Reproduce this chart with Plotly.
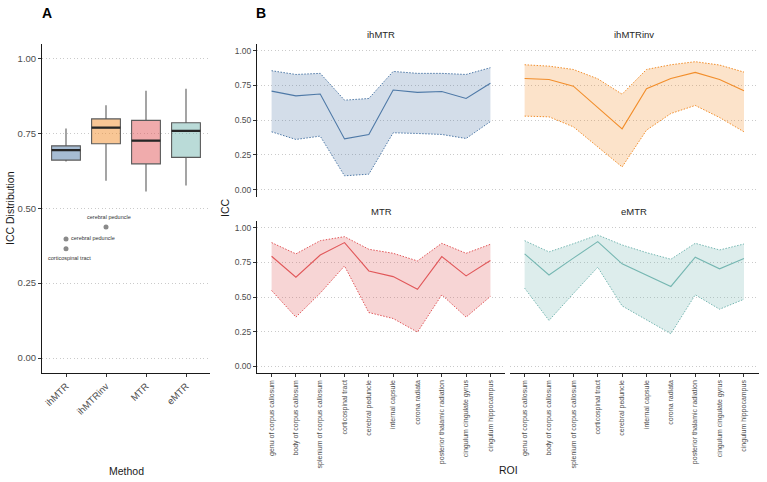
import numpy as np
import plotly.graph_objects as go

# ---------------- data ----------------
methods = ["ihMTR", "ihMTRinv", "MTR", "eMTR"]
rois = ["genu of corpus callosum", "body of corpus callosum", "splenium of corpus callosum",
        "corticospinal tract", "cerebral peduncle", "internal capsule", "corona radiata",
        "posterior thalamic radiation", "cingulum cingulate gyrus", "cingulum hippocampus"]

icc_ihMTR = [0.709, 0.675, 0.688, 0.365, 0.397, 0.717, 0.700, 0.706, 0.656, 0.766]
low_ihMTR = [0.416, 0.361, 0.385, 0.099, 0.111, 0.409, 0.404, 0.397, 0.368, 0.490]
up_ihMTR = [0.856, 0.829, 0.837, 0.644, 0.656, 0.851, 0.837, 0.837, 0.829, 0.878]

icc_ihMTRinv = [0.800, 0.793, 0.745, 0.592, 0.437, 0.726, 0.800, 0.844, 0.793, 0.712]
low_ihMTRinv = [0.529, 0.524, 0.452, 0.308, 0.163, 0.428, 0.548, 0.606, 0.519, 0.416]
up_ihMTRinv = [0.899, 0.889, 0.865, 0.798, 0.687, 0.865, 0.899, 0.921, 0.897, 0.846]

icc_MTR = [0.794, 0.643, 0.803, 0.892, 0.688, 0.647, 0.556, 0.791, 0.652, 0.763]
low_MTR = [0.547, 0.355, 0.528, 0.724, 0.388, 0.345, 0.247, 0.516, 0.355, 0.504]
up_MTR = [0.892, 0.811, 0.906, 0.935, 0.844, 0.815, 0.760, 0.887, 0.815, 0.880]

icc_eMTR = [0.811, 0.659, 0.780, 0.899, 0.739, 0.657, 0.576, 0.787, 0.703, 0.777]
low_eMTR = [0.564, 0.331, 0.525, 0.715, 0.436, 0.336, 0.235, 0.516, 0.412, 0.484]
up_eMTR = [0.906, 0.825, 0.884, 0.947, 0.875, 0.820, 0.772, 0.887, 0.839, 0.882]

icc_all = [icc_ihMTR, icc_ihMTRinv, icc_MTR, icc_eMTR]
low_all = [low_ihMTR, low_ihMTRinv, low_MTR, low_eMTR]
up_all = [up_ihMTR, up_ihMTRinv, up_MTR, up_eMTR]

y_ticks = [0.0, 0.25, 0.5, 0.75, 1.0]
y_tick_labels = ["0.00", "0.25", "0.50", "0.75", "1.00"]

# ---------------- style ----------------
colors = ["#4E79A7", "#F28E2B", "#E15759", "#76B7B2"]
FONT = "Liberation Sans, Arial, Helvetica, sans-serif"
W, H = 767, 482


def rgba(hexc, a):
    h = hexc.lstrip("#")
    return "rgba(%d,%d,%d,%.2f)" % (int(h[0:2], 16), int(h[2:4], 16), int(h[4:6], 16), a)


def px(x):
    return x / W


def py(y):
    return 1 - y / H


# label offsets for outlier labels (pixels)
label_style = {
    ("ihMTR", "corticospinal tract"): dict(xanchor="center", xshift=3, yshift=-9),
    ("ihMTR", "cerebral peduncle"): dict(xanchor="left", xshift=3, yshift=1),
    ("ihMTRinv", "cerebral peduncle"): dict(xanchor="center", xshift=3, yshift=10),
}

fig = go.Figure()
annotations = []

# ---------------- panel A: boxplots ----------------
box_w = 0.72
for k, m in enumerate(methods):
    vals = np.array(icc_all[k])
    q1, med, q3 = np.percentile(vals, [25, 50, 75])
    iqr = q3 - q1
    lo_f, hi_f = q1 - 1.5 * iqr, q3 + 1.5 * iqr
    inside = vals[(vals >= lo_f) & (vals <= hi_f)]
    xpos = k + 1
    fig.add_trace(go.Box(
        x=[xpos], q1=[q1], median=[med], q3=[q3],
        lowerfence=[inside.min()], upperfence=[inside.max()],
        width=box_w, whiskerwidth=0, boxpoints=False,
        fillcolor=rgba(colors[k], 0.5), line=dict(color="#5a5a5a", width=1.1),
        xaxis="x", yaxis="y", showlegend=False, hoverinfo="skip"))
    fig.add_trace(go.Scatter(
        x=[xpos - box_w / 2, xpos + box_w / 2], y=[med, med], mode="lines",
        line=dict(color="#262626", width=2.3), xaxis="x", yaxis="y",
        showlegend=False, hoverinfo="skip"))
    for r, v in zip(rois, vals):
        if v < lo_f or v > hi_f:
            fig.add_trace(go.Scatter(
                x=[xpos], y=[v], mode="markers",
                marker=dict(color="#8a8a8a", size=5), xaxis="x", yaxis="y",
                showlegend=False, hoverinfo="skip"))
            st = label_style.get((m, r), dict(xanchor="left", xshift=3, yshift=0))
            annotations.append(dict(
                x=xpos, y=v, xref="x", yref="y", text=r, showarrow=False,
                font=dict(family=FONT, size=5.5, color="#333333"),
                yanchor="middle", **st))

# ---------------- panel B: facets ----------------
DOT = "1.5px,1.5px"
for k, m in enumerate(methods):
    ax = str(k + 2)
    fig.add_trace(go.Scatter(
        x=rois, y=low_all[k], mode="lines",
        line=dict(color=colors[k], width=1, dash=DOT),
        xaxis="x" + ax, yaxis="y" + ax, showlegend=False, hoverinfo="skip"))
    fig.add_trace(go.Scatter(
        x=rois, y=up_all[k], mode="lines", fill="tonexty",
        fillcolor=rgba(colors[k], 0.25),
        line=dict(color=colors[k], width=1, dash=DOT),
        xaxis="x" + ax, yaxis="y" + ax, showlegend=False, hoverinfo="skip"))
    fig.add_trace(go.Scatter(
        x=rois, y=icc_all[k], mode="lines",
        line=dict(color=colors[k], width=1.1),
        xaxis="x" + ax, yaxis="y" + ax, showlegend=False, hoverinfo="skip"))

tickfont = dict(family=FONT, size=9.5, color="#4d4d4d")
grid = dict(showgrid=True, gridcolor="#bdbdbd", griddash="1px,2.5px", gridwidth=0.8)
axline = dict(showline=True, linecolor="#1a1a1a", linewidth=1, ticks="outside",
              ticklen=3, tickcolor="#333333", tickwidth=1)

layout = dict(
    width=W, height=H, margin=dict(l=0, r=0, t=0, b=0),
    paper_bgcolor="white", plot_bgcolor="white", showlegend=False,
    font=dict(family=FONT),
    xaxis=dict(domain=[px(42), px(210)], anchor="y", range=[0.4, 4.6],
               tickmode="array", tickvals=[1, 2, 3, 4], ticktext=methods,
               tickangle=-45, tickfont=tickfont, showgrid=False, zeroline=False, **axline),
    yaxis=dict(domain=[py(373), py(43.5)], anchor="x", range=[-0.05, 1.05],
               tickmode="array", tickvals=y_ticks, ticktext=y_tick_labels,
               tickfont=tickfont, zeroline=False, **grid, **axline),
)

fx = [(257, 505), (510, 758.6), (257, 505), (510, 758.6)]
fy = [(43.8, 196.5), (43.8, 196.5), (220.7, 373.3), (220.7, 373.3)]
for k in range(4):
    ax = str(k + 2)
    bottom = k >= 2
    left = k % 2 == 0
    xd = dict(domain=[px(fx[k][0]), px(fx[k][1])], anchor="y" + ax,
              type="category", categoryorder="array", categoryarray=rois,
              range=[-0.6, len(rois) - 0.4], showgrid=False, zeroline=False)
    if bottom:
        xd.update(tickangle=-90, tickfont=dict(family=FONT, size=7, color="#4d4d4d"), **axline)
    else:
        xd.update(showticklabels=False, showline=False, ticks="")
    yd = dict(domain=[py(fy[k][1]), py(fy[k][0])], anchor="x" + ax, range=[-0.05, 1.05],
              tickmode="array", tickvals=y_ticks, ticktext=y_tick_labels,
              zeroline=False, **grid)
    if left:
        yd.update(tickfont=dict(family=FONT, size=8.5, color="#4d4d4d"), **axline)
    else:
        yd.update(showticklabels=False, showline=False, ticks="")
    layout["xaxis" + ax] = xd
    layout["yaxis" + ax] = yd
    # strip title
    annotations.append(dict(
        x=px((fx[k][0] + fx[k][1]) / 2), y=py(fy[k][0] - 9), xref="paper", yref="paper",
        text=methods[k], showarrow=False, xanchor="center", yanchor="middle",
        font=dict(family=FONT, size=9.5, color="#262626")))

title_font = dict(family=FONT, size=10.5, color="#1a1a1a")
annotations += [
    dict(x=px(46.7), y=py(13), text="<b>A</b>", font=dict(family=FONT, size=14, color="black")),
    dict(x=px(261), y=py(13), text="<b>B</b>", font=dict(family=FONT, size=14, color="black")),
    dict(x=px(10), y=py(208), text="ICC Distribution", textangle=-90, font=title_font),
    dict(x=px(225), y=py(208), text="ICC", textangle=-90, font=title_font),
    dict(x=px(126), y=py(471), text="Method", font=title_font),
    dict(x=px(508), y=py(470), text="ROI", font=title_font),
]
for a in annotations[-6:]:
    a.update(xref="paper", yref="paper", showarrow=False, xanchor="center", yanchor="middle")

layout["annotations"] = annotations
fig.update_layout(**layout)
fig.write_html("out.html", config={"displayModeBar": False, "staticPlot": True},
               post_script="document.body.style.margin='0';document.body.style.overflow='hidden';")
